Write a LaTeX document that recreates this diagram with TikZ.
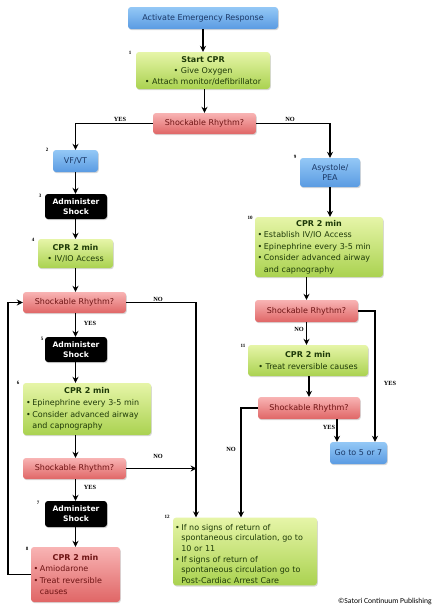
\documentclass[tikz,border=0pt]{standalone}
\usepackage{fontspec}
\setmainfont{DejaVu Sans}
\newfontfamily\numfont{Liberation Serif}
\newfontfamily\capfont{Carlito}
\usetikzlibrary{arrows.meta,shadows,calc}
\newcommand{\bul}[1]{\par\hangindent=0.8em\hangafter=1\noindent\makebox[0.8em][l]{\textbullet}#1\par}
\newcommand{\ttl}[1]{{\centering\bfseries #1\par}}
\newcommand{\nl}{\hfil\break}
\definecolor{bluetxt}{HTML}{1B3866}
\definecolor{greentxt}{HTML}{1E3A08}
\definecolor{redtxt}{HTML}{6E1414}
\definecolor{bluetop}{HTML}{94C8F6}
\definecolor{bluebot}{HTML}{5A9BE2}
\definecolor{greentop}{HTML}{E6F5A8}
\definecolor{greenbot}{HTML}{AAD250}
\definecolor{redtop}{HTML}{F8B4B4}
\definecolor{redbot}{HTML}{E06666}
\tikzset{
  base/.style={rounded corners=3pt, inner sep=2pt, font=\fontsize{8}{11.6}\selectfont,
    drop shadow={shadow xshift=0.8pt, shadow yshift=-1.2pt, opacity=0.3}},
  bluebox/.style={base, top color=bluetop, bottom color=bluebot, text=bluetxt, align=center},
  greenbox/.style={base, top color=greentop, bottom color=greenbot, text=greentxt},
  redbox/.style={base, top color=redtop, bottom color=redbot, text=redtxt},
  shockbox/.style={base, fill=black, text=white, font=\fontsize{7.6}{10}\selectfont\bfseries, align=center, minimum width=62pt, minimum height=25pt},
  srbox/.style={redbox, minimum width=103pt, minimum height=21pt},
  num/.style={font=\fontsize{5}{6}\selectfont\numfont\bfseries, inner sep=0pt},
  yn/.style={font=\fontsize{6.3}{7}\selectfont\numfont\bfseries, inner sep=0pt},
  arr/.style={line width=1.3pt, -{Stealth[length=6pt,width=6pt]}},
  ln/.style={line width=1.3pt}
}
\begin{document}
\begin{tikzpicture}[x=1pt,y=-1pt]
\useasboundingbox[fill=white] (0,0) rectangle (441,616);

% left column
\node[bluebox, minimum width=150pt, minimum height=22pt] (act) at (203,18) {Activate Emergency Response};
\node[greenbox, align=center, minimum width=134pt, minimum height=37pt, font=\fontsize{8}{11}\selectfont] (n1) at (203,70.5)
  {\textbf{Start CPR}\\\textbullet\ Give Oxygen\\\textbullet\ Attach monitor/defibrillator};
\node[srbox] (sr0) at (204.5,123.5) {Shockable Rhythm?};
\node[bluebox, minimum width=45pt, minimum height=22pt] (vf) at (75.5,161) {VF/VT};
\node[shockbox] (sh3) at (76,206.5) {Administer\\Shock};
\node[greenbox, align=center, minimum width=75pt, minimum height=29pt] (c4) at (75.5,253.5)
  {\textbf{CPR 2 min}\\\textbullet\ IV/IO Access};
\node[srbox] (sr1) at (74.5,302.5) {Shockable Rhythm?};
\node[shockbox] (sh5) at (76,349.5) {Administer\\Shock};
\node[greenbox, text width=122pt, align=left, minimum width=128pt, minimum height=52pt] (c6) at (87,409)
  {\ttl{CPR 2 min}\bul{Epinephrine every 3-5 min}\bul{Consider advanced airway\nl and capnography}};
\node[srbox] (sr2) at (74.5,468.5) {Shockable Rhythm?};
\node[shockbox, minimum height=26pt] (sh7) at (76,514) {Administer\\Shock};
\node[redbox, text width=84pt, align=left, minimum width=89pt, minimum height=55pt] (c8) at (75.5,574.5)
  {\ttl{CPR 2 min}\bul{Amiodarone}\bul{Treat reversible\nl causes}};

% right column
\node[bluebox, minimum width=60pt, minimum height=29pt, font=\fontsize{8}{10.5}\selectfont] (asy) at (330,172.5) {Asystole/\\PEA};
\node[greenbox, text width=123pt, align=left, minimum width=128pt, minimum height=60pt] (c10) at (319,247)
  {\ttl{CPR 2 min}\bul{Establish IV/IO Access}\bul{Epinephrine every 3-5 min}\bul{Consider advanced airway\nl and capnography}};
\node[srbox, minimum height=22pt] (sr3) at (306.5,311) {Shockable Rhythm?};
\node[greenbox, align=center, minimum width=120pt, minimum height=31pt] (c11) at (308,360.5)
  {\textbf{CPR 2 min}\\\textbullet\ Treat reversible causes};
\node[srbox, minimum width=102pt, minimum height=22pt] (sr4) at (309,408) {Shockable Rhythm?};
\node[bluebox, minimum width=57pt, minimum height=22pt] (go) at (358.5,453) {Go to 5 or 7};
\node[greenbox, text width=140pt, align=left, minimum width=144pt, minimum height=65pt, font=\fontsize{8}{10.6}\selectfont] (c12) at (245,551.5)
  {\bul{If no signs of return of\nl spontaneous circulation, go to\nl 10 or 11}\bul{If signs of return of\nl spontaneous circulation go to\nl Post-Cardiac Arrest Care}};

% numbers
\node[num] (l1) at (130,53) {1};
\node[num] (l2) at (47,150) {2};
\node[num] (l3) at (40,196) {3};
\node[num] (l4) at (33,240) {4};
\node[num] (l5) at (42,339) {5};
\node[num] (l6) at (18,383) {6};
\node[num] (l7) at (38,503) {7};
\node[num] (l8) at (27,549) {8};
\node[num] (l9) at (295,157) {9};
\node[num] (l10) at (250,218) {10};
\node[num] (l11) at (243,346) {11};
\node[num] (l12) at (167,517) {12};

% helper coordinates
\coordinate (jx) at (196,0);
\coordinate (lx) at (8,0);
\coordinate (gx) at (375,0);
\coordinate (gy) at (337,0);
\coordinate (kx) at (241,0);

% connectors
\draw[arr] (act.south) -- (n1.north);
\draw[arr] (n1.south -| sr0.north) -- (sr0.north);
\draw[arr] (sr0.west) -| (vf.north);
\draw[arr] (sr0.east) -| (asy.north);
\draw[arr] (vf.south) -- (vf.south |- sh3.north);
\draw[arr] (vf.south |- sh3.south) -- (vf.south |- c4.north);
\draw[arr] (vf.south |- c4.south) -- (vf.south |- sr1.north);
\draw[arr] (vf.south |- sr1.south) -- (vf.south |- sh5.north);
\draw[arr] (vf.south |- sh5.south) -- (vf.south |- c6.north);
\draw[arr] (vf.south |- c6.south) -- (vf.south |- sr2.north);
\draw[arr] (vf.south |- sr2.south) -- (vf.south |- sh7.north);
\draw[arr] (vf.south |- sh7.south) -- (vf.south |- c8.north);
\draw[arr] (sr1.east) -| (jx |- c12.north);
\draw[arr] (sr2.east) -- ($(jx |- sr2.east)+(0.6,0)$);
\draw[arr] (c8.west) -| (lx |- sr1.west) -- (sr1.west);

\draw[arr] (asy.south) -- (asy.south |- c10.north);
\draw[arr] (c10.south -| sr3.north) -- (sr3.north);
\draw[arr] (sr3.south) -- (sr3.south |- c11.north);
\draw[arr] (c11.south -| sr4.north) -- (sr4.north);
\draw[arr] (sr3.east) -| (gx |- go.north);
\draw[arr] (gy |- sr4.south) -- (gy |- go.north);
\draw[arr] (sr4.west) -| (kx |- c12.north);

% yes/no labels
\node[yn] (y0) at (120,119) {YES};
\node[yn] (no0) at (290,119) {NO};
\node[yn] (no1) at (158,299) {NO};
\node[yn] (y1) at (90,323) {YES};
\node[yn] (no2) at (158,456) {NO};
\node[yn] (y2) at (90,487) {YES};
\node[yn] (no3) at (299,329) {NO};
\node[yn] (y3) at (390,383) {YES};
\node[yn] (y4) at (329,427) {YES};
\node[yn] (no4) at (231,449) {NO};

\node[font=\fontsize{7.6}{9}\selectfont\capfont, inner sep=0pt, anchor=east] (cp) at (432,602) {©Satori Continuum Publishing};
\end{tikzpicture}
\end{document}
